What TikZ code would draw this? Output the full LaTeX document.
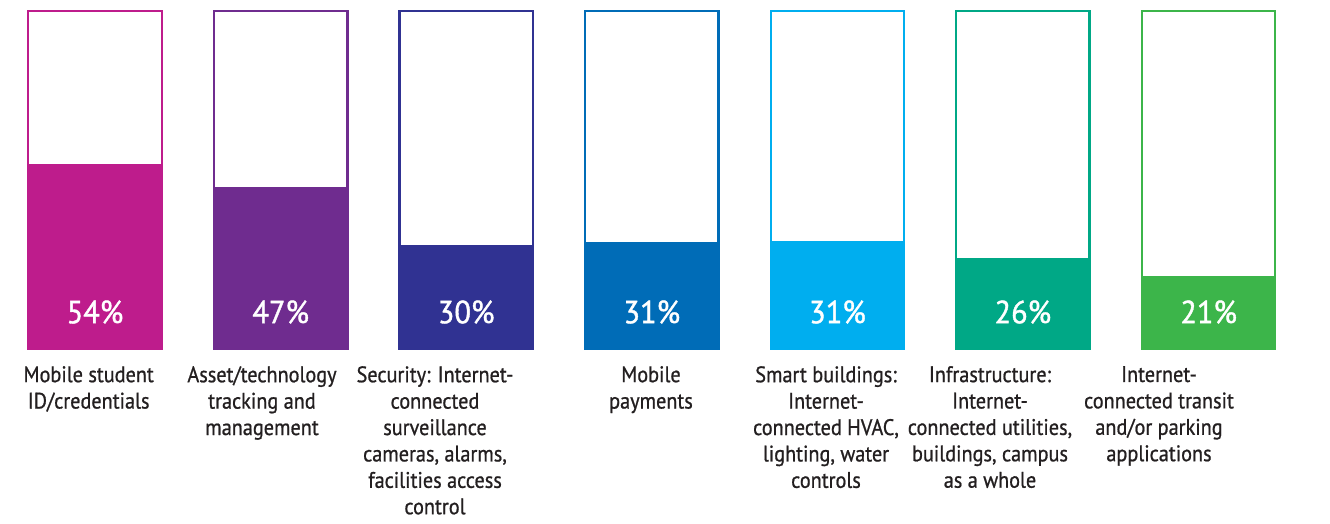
\documentclass[tikz,border=0pt]{standalone}
\usepackage{fontspec}
\setmainfont{PT Sans}[FakeStretch=0.9]
\newfontfamily\lblfont{PT Sans}[FakeStretch=0.9,FakeBold=0.8]
\newfontfamily\pctfont{PT Sans}[FakeStretch=0.95,FakeBold=1.2]
\definecolor{c1}{HTML}{BE1C8C}
\definecolor{c2}{HTML}{6F2C8F}
\definecolor{c3}{HTML}{303292}
\definecolor{c4}{HTML}{006CB7}
\definecolor{c5}{HTML}{00AEEF}
\definecolor{c6}{HTML}{00A886}
\definecolor{c7}{HTML}{3CB54A}
\definecolor{txt}{HTML}{231F20}
\begin{document}
\begin{tikzpicture}[x=1pt,y=-1pt,
  pct/.style={text=white,font=\pctfont\fontsize{32}{34}\selectfont,inner sep=0pt},
  lbl/.style={text=txt,font=\lblfont\fontsize{22.5}{26.4}\selectfont,align=center,anchor=north,inner sep=0pt},
  barframe/.style={line width=2.3pt}]
\useasboundingbox (0,0) rectangle (1330,523);
\fill[white] (0,0) rectangle (1330,523);
\foreach \l/\r/\f/\c/\p/\n in {27/163/163.7/c1/54/b1, 212.7/348.7/187.3/c2/47/b2, 398.3/534/245/c3/30/b3, 584/719.7/241.7/c4/31/b4, 769.7/905.3/241.3/c5/31/b5, 955/1090.7/258.3/c6/26/b6, 1141/1276.3/275.7/c7/21/b7}{
  \fill[\c] (\l,\f) rectangle (\r,349);
  \draw[barframe,\c] (\l+1.15,11.15) rectangle (\r-1.15,349);
  \node[pct] (\n) at ({(\l+\r)/2},312) {\p\%};
}
\node[lbl] (l1) at (88.7,366) {Mobile student\\ID/credentials};
\node[lbl] (l2) at (262,366) {Asset/technology\\tracking and\\management};
\node[lbl] (l3) at (435,366) {Security: Internet-\\connected\\surveillance\\cameras, alarms,\\facilities access\\control};
\node[lbl] (l4) at (651,366) {Mobile\\payments};
\node[lbl] (l5) at (826,366) {Smart buildings:\\Internet-\\connected HVAC,\\lighting, water\\controls};
\node[lbl] (l6) at (990,366) {Infrastructure:\\Internet-\\connected utilities,\\buildings, campus\\as a whole};
\node[lbl] (l7) at (1159,366) {Internet-\\connected transit\\and/or parking\\applications};
\end{tikzpicture}
\end{document}
